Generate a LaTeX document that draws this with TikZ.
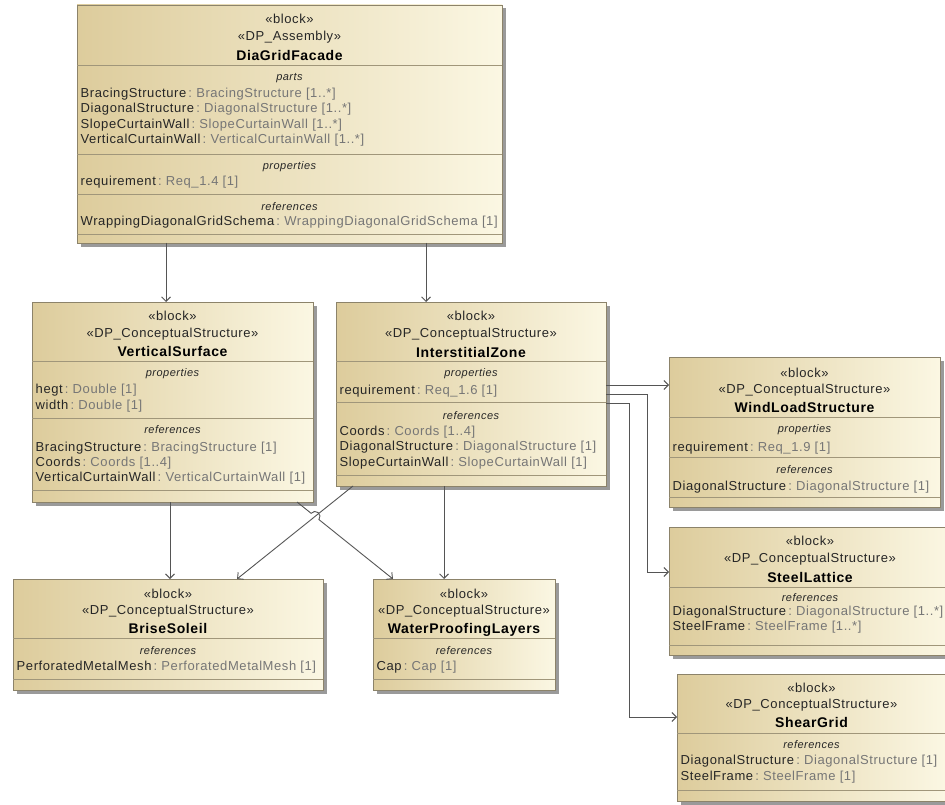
\documentclass[tikz,border=0pt]{standalone}
\usepackage{fontspec}
\setmainfont{Liberation Sans}
\newfontfamily\umlfont[LetterSpace=4.5]{Liberation Sans}
\usetikzlibrary{arrows.meta,calc,shadows}

\definecolor{boxdark}{HTML}{DDCC9C}
\definecolor{boxlight}{HTML}{FBF7E3}
\definecolor{boxline}{HTML}{8C836A}
\definecolor{sepcol}{HTML}{A0967A}
\definecolor{shadowgray}{HTML}{9A9A9A}
\definecolor{namedark}{HTML}{262626}
\definecolor{typegray}{HTML}{767676}
\definecolor{wire}{HTML}{555555}

% type part of an attribute line ( : Type [mult] ) in gray
\newcommand\tyof[1]{\textcolor{typegray}{\,:\ #1}}

\tikzset{
  blockbox/.style={draw=boxline, line width=0.9pt, left color=boxdark, right color=boxlight,
    inner sep=0pt, outer sep=0pt, anchor=north west,
    drop shadow={shadow xshift=3.5pt, shadow yshift=-3.5pt, fill=shadowgray, opacity=1}},
  sepline/.style={draw=sepcol, line width=0.8pt},
  stereo/.style={anchor=base, inner sep=0pt, text=namedark, font=\umlfont\fontsize{13}{15}\selectfont},
  blockname/.style={anchor=base, inner sep=0pt, text=black, font=\umlfont\fontsize{14}{16}\selectfont\bfseries},
  comptitle/.style={anchor=base, inner sep=0pt, text=namedark, font=\umlfont\fontsize{11}{13}\selectfont\itshape},
  attr/.style={anchor=base west, inner sep=0pt, text=namedark, font=\umlfont\fontsize{13}{15}\selectfont},
  conn/.style={draw=wire, line width=0.9pt, -{Straight Barb[length=4.5pt,width=9pt]}},
}

\begin{document}
\begin{tikzpicture}[x=1pt,y=-1pt]
\useasboundingbox (0,0) rectangle (945,805);

% ---------- DiaGridFacade ----------
\node[blockbox, minimum width=425pt, minimum height=238pt] (dgf) at (77,5) {};
\draw[sepline] (77,65) -- (502,65);
\draw[sepline] (77,154) -- (502,154);
\draw[sepline] (77,194) -- (502,194);
\draw[sepline] (77,234) -- (502,234);
\node[stereo] (dgf-s1) at (289.5,23.3) {«block»};
\node[stereo] (dgf-s2) at (289.5,41) {«DP\_Assembly»};
\node[blockname] (dgf-nm) at (289.5,60.4) {DiaGridFacade};
\node[comptitle] (dgf-c1) at (289.5,80.5) {parts};
\node[attr] (dgf-a1) at (80.5,97.5) {BracingStructure\tyof{BracingStructure [1..*]}};
\node[attr] (dgf-a2) at (80.5,113) {DiagonalStructure\tyof{DiagonalStructure [1..*]}};
\node[attr] (dgf-a3) at (80.5,128.5) {SlopeCurtainWall\tyof{SlopeCurtainWall [1..*]}};
\node[attr] (dgf-a4) at (80.5,144) {VerticalCurtainWall\tyof{VerticalCurtainWall [1..*]}};
\node[comptitle] (dgf-c2) at (289.5,169.5) {properties};
\node[attr] (dgf-a5) at (80.5,186) {requirement\tyof{Req\_1.4 [1]}};
\node[comptitle] (dgf-c3) at (289.5,210.5) {references};
\node[attr] (dgf-a6) at (80.5,225.5) {WrappingDiagonalGridSchema\tyof{WrappingDiagonalGridSchema [1]}};

% ---------- VerticalSurface ----------
\node[blockbox, minimum width=281pt, minimum height=200pt] (vs) at (32,302) {};
\draw[sepline] (32,361) -- (313,361);
\draw[sepline] (32,418) -- (313,418);
\draw[sepline] (32,490) -- (313,490);
\node[stereo] (vs-s1) at (172.5,320) {«block»};
\node[stereo] (vs-s2) at (172.5,337) {«DP\_ConceptualStructure»};
\node[blockname] (vs-nm) at (172.5,356.4) {VerticalSurface};
\node[comptitle] (vs-c1) at (172.5,376.5) {properties};
\node[attr] (vs-a1) at (35.5,393) {hegt\tyof{Double [1]}};
\node[attr] (vs-a2) at (35.5,409) {width\tyof{Double [1]}};
\node[comptitle] (vs-c2) at (172.5,433.5) {references};
\node[attr] (vs-a3) at (35.5,451) {BracingStructure\tyof{BracingStructure [1]}};
\node[attr] (vs-a4) at (35.5,466) {Coords\tyof{Coords [1..4]}};
\node[attr] (vs-a5) at (35.5,481) {VerticalCurtainWall\tyof{VerticalCurtainWall [1]}};

% ---------- InterstitialZone ----------
\node[blockbox, minimum width=270pt, minimum height=184pt] (iz) at (336,302) {};
\draw[sepline] (336,361) -- (606,361);
\draw[sepline] (336,402) -- (606,402);
\draw[sepline] (336,475) -- (606,475);
\node[stereo] (iz-s1) at (471,320) {«block»};
\node[stereo] (iz-s2) at (471,337) {«DP\_ConceptualStructure»};
\node[blockname] (iz-nm) at (471,357.4) {InterstitialZone};
\node[comptitle] (iz-c1) at (471,376.5) {properties};
\node[attr] (iz-a1) at (339.5,394) {requirement\tyof{Req\_1.6 [1]}};
\node[comptitle] (iz-c2) at (471,419) {references};
\node[attr] (iz-a2) at (339.5,435) {Coords\tyof{Coords [1..4]}};
\node[attr] (iz-a3) at (339.5,450.5) {DiagonalStructure\tyof{DiagonalStructure [1]}};
\node[attr] (iz-a4) at (339.5,466) {SlopeCurtainWall\tyof{SlopeCurtainWall [1]}};

% ---------- WindLoadStructure ----------
\node[blockbox, minimum width=271pt, minimum height=150pt] (wl) at (669,357) {};
\draw[sepline] (669,417) -- (940,417);
\draw[sepline] (669,457) -- (940,457);
\draw[sepline] (669,497) -- (940,497);
\node[stereo] (wl-s1) at (804.5,377) {«block»};
\node[stereo] (wl-s2) at (804.5,393) {«DP\_ConceptualStructure»};
\node[blockname] (wl-nm) at (804.5,412.4) {WindLoadStructure};
\node[comptitle] (wl-c1) at (804.5,432.5) {properties};
\node[attr] (wl-a1) at (672.5,451) {requirement\tyof{Req\_1.9 [1]}};
\node[comptitle] (wl-c2) at (804.5,473.5) {references};
\node[attr] (wl-a2) at (672.5,490) {DiagonalStructure\tyof{DiagonalStructure [1]}};

% ---------- SteelLattice ----------
\node[blockbox, minimum width=282pt, minimum height=128pt] (sl) at (669,527) {};
\draw[sepline] (669,587) -- (951,587);
\draw[sepline] (669,645) -- (951,645);
\node[stereo] (sl-s1) at (810,545) {«block»};
\node[stereo] (sl-s2) at (810,562) {«DP\_ConceptualStructure»};
\node[blockname] (sl-nm) at (810,582) {SteelLattice};
\node[comptitle] (sl-c1) at (810,601.5) {references};
\node[attr] (sl-a1) at (672.5,615.5) {DiagonalStructure\tyof{DiagonalStructure [1..*]}};
\node[attr] (sl-a2) at (672.5,630.5) {SteelFrame\tyof{SteelFrame [1..*]}};

% ---------- ShearGrid ----------
\node[blockbox, minimum width=269pt, minimum height=127pt] (sg) at (677,674) {};
\draw[sepline] (677,733) -- (946,733);
\draw[sepline] (677,790) -- (946,790);
\node[stereo] (sg-s1) at (811.5,692) {«block»};
\node[stereo] (sg-s2) at (811.5,708.5) {«DP\_ConceptualStructure»};
\node[blockname] (sg-nm) at (811.5,727) {ShearGrid};
\node[comptitle] (sg-c1) at (811.5,748) {references};
\node[attr] (sg-a1) at (680.5,764) {DiagonalStructure\tyof{DiagonalStructure [1]}};
\node[attr] (sg-a2) at (680.5,780) {SteelFrame\tyof{SteelFrame [1]}};

% ---------- BriseSoleil ----------
\node[blockbox, minimum width=310pt, minimum height=111pt] (bs) at (13,579) {};
\draw[sepline] (13,638) -- (323,638);
\draw[sepline] (13,679) -- (323,679);
\node[stereo] (bs-s1) at (168,598) {«block»};
\node[stereo] (bs-s2) at (168,614) {«DP\_ConceptualStructure»};
\node[blockname] (bs-nm) at (168,633.4) {BriseSoleil};
\node[comptitle] (bs-c1) at (168,654.5) {references};
\node[attr] (bs-a1) at (16.5,670) {PerforatedMetalMesh\tyof{PerforatedMetalMesh [1]}};

% ---------- WaterProofingLayers ----------
\node[blockbox, minimum width=182pt, minimum height=111pt] (wp) at (373,579) {};
\draw[sepline] (373,638) -- (555,638);
\draw[sepline] (373,679) -- (555,679);
\node[stereo] (wp-s1) at (464,598) {«block»};
\node[stereo] (wp-s2) at (464,614) {«DP\_ConceptualStructure»};
\node[blockname] (wp-nm) at (464,633.4) {WaterProofingLayers};
\node[comptitle] (wp-c1) at (464,654.5) {references};
\node[attr] (wp-a1) at (376.5,670) {Cap\tyof{Cap [1]}};

% ---------- connectors ----------
\coordinate (dgf-o1) at ([xshift=89pt]dgf.south west);
\coordinate (dgf-o2) at ([xshift=349pt]dgf.south west);
\draw[conn] (dgf-o1) -- (dgf-o1 |- vs.north);
\draw[conn] (dgf-o2) -- (dgf-o2 |- iz.north);

\coordinate (iz-e1) at ([yshift=-83pt]iz.north east);
\coordinate (iz-e2) at ([yshift=-92pt]iz.north east);
\coordinate (iz-e3) at ([yshift=-101pt]iz.north east);
\draw[conn] (iz-e1) -- (iz-e1 -| wl.west);
\draw[conn] (iz-e2) -| ([xshift=-22pt,yshift=-45pt]sl.north west) -- ([yshift=-45pt]sl.north west);
\draw[conn] (iz-e3) -| ([xshift=-48pt,yshift=-43pt]sg.north west) -- ([yshift=-43pt]sg.north west);

\coordinate (vs-o1) at ([xshift=138pt]vs.south west);
\coordinate (vs-o2) at ([xshift=265pt]vs.south west);
\coordinate (wp-i1) at ([xshift=20pt]wp.north west);
\draw[conn] (vs-o1) -- (vs-o1 |- bs.north);
% diagonal with a line hop where it crosses the other diagonal
\draw[conn] (vs-o2) -- ($(vs-o2)!0.147!(wp-i1)$)
  arc[start angle=141.3, end angle=-38.7, radius=5pt] -- (wp-i1);

\coordinate (iz-o1) at ([xshift=17pt]iz.south west);
\coordinate (iz-o2) at ([xshift=108pt]iz.south west);
\draw[conn] (iz-o1) -- ([xshift=224pt]bs.north west);
\draw[conn] (iz-o2) -- (iz-o2 |- wp.north);

\end{tikzpicture}
\end{document}
